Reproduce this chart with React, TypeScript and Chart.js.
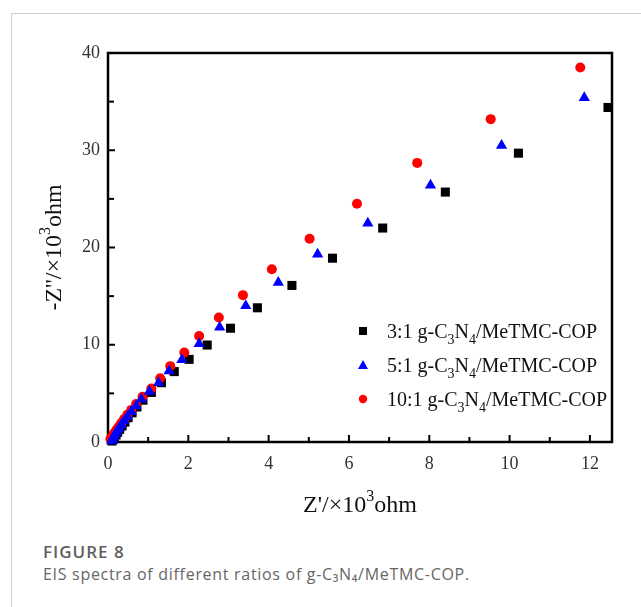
import React, { useEffect, useRef } from "react";
import { Chart, registerables } from "chart.js";

Chart.register(...registerables);

const seriesLabels = [
  "3:1 g-C₃N₄/MeTMC-COP",
  "5:1 g-C₃N₄/MeTMC-COP",
  "10:1 g-C₃N₄/MeTMC-COP",
];

const x31 = [0.1, 0.13, 0.16, 0.2, 0.24, 0.29, 0.35, 0.42, 0.5, 0.6, 0.72, 0.87, 1.08, 1.33, 1.65, 2.02, 2.47, 3.05, 3.72, 4.58, 5.59, 6.84, 8.4, 10.22, 12.45];
const y31 = [0.1, 0.28, 0.48, 0.72, 1.0, 1.3, 1.65, 2.05, 2.5, 3.0, 3.6, 4.3, 5.1, 6.1, 7.24, 8.5, 9.97, 11.7, 13.8, 16.1, 18.9, 22.0, 25.7, 29.7, 34.4];

const x51 = [0.09, 0.11, 0.14, 0.18, 0.22, 0.27, 0.33, 0.4, 0.48, 0.58, 0.7, 0.83, 1.03, 1.26, 1.52, 1.84, 2.27, 2.78, 3.43, 4.24, 5.22, 6.47, 8.03, 9.8, 11.86];
const y51 = [0.1, 0.3, 0.55, 0.8, 1.1, 1.4, 1.75, 2.15, 2.6, 3.1, 3.7, 4.4, 5.2, 6.1, 7.3, 8.45, 10.1, 11.8, 14.0, 16.4, 19.3, 22.5, 26.4, 30.5, 35.4];

const x101 = [0.06, 0.09, 0.13, 0.17, 0.22, 0.27, 0.33, 0.4, 0.48, 0.58, 0.7, 0.86, 1.08, 1.3, 1.55, 1.9, 2.27, 2.76, 3.36, 4.08, 5.02, 6.2, 7.7, 9.53, 11.76];
const y101 = [0.3, 0.5, 0.75, 1.0, 1.3, 1.6, 1.95, 2.35, 2.8, 3.3, 3.9, 4.65, 5.5, 6.55, 7.8, 9.2, 10.9, 12.8, 15.1, 17.76, 20.9, 24.5, 28.7, 33.2, 38.5];

const xTickValues = [0, 2, 4, 6, 8, 10, 12];
const xMinorTickValues = [1, 3, 5, 7, 9, 11];
const yTickValues = [0, 10, 20, 30, 40];
const yMinorTickValues = [5, 15, 25, 35];

const xTitle = "Z'/×10³ohm";
const yTitle = "-Z''/×10³ohm";
const captionHead = "FIGURE 8";
const captionText = "EIS spectra of different ratios of g-C₃N₄/MeTMC-COP.";

const SERIF = "'Liberation Serif', 'Times New Roman', serif";

const subMap: Record<string, string> = { "₀": "0", "₁": "1", "₂": "2", "₃": "3", "₄": "4", "₅": "5", "₆": "6", "₇": "7", "₈": "8", "₉": "9" };
const supMap: Record<string, string> = { "³": "3", "²": "2", "¹": "1" };

type Seg = { t: string; kind: "n" | "sub" | "sup" };
function parseRich(text: string): Seg[] {
  const segs: Seg[] = [];
  for (const ch of text) {
    let kind: Seg["kind"] = "n";
    let t = ch;
    if (subMap[ch]) { kind = "sub"; t = subMap[ch]; }
    else if (supMap[ch]) { kind = "sup"; t = supMap[ch]; }
    const last = segs[segs.length - 1];
    if (last && last.kind === kind) last.t += t;
    else segs.push({ t, kind });
  }
  return segs;
}

function richWidth(ctx: CanvasRenderingContext2D, segs: Seg[], size: number, small: number) {
  let w = 0;
  for (const s of segs) {
    ctx.font = `${s.kind === "n" ? size : small}px ${SERIF}`;
    w += ctx.measureText(s.t).width;
  }
  return w;
}

function drawRich(ctx: CanvasRenderingContext2D, text: string, x: number, y: number, size: number, align: "left" | "center", color: string) {
  const segs = parseRich(text);
  const small = Math.round(size * 0.68);
  const w = richWidth(ctx, segs, size, small);
  let cx = align === "center" ? x - w / 2 : x;
  ctx.save();
  ctx.fillStyle = color;
  ctx.textBaseline = "alphabetic";
  ctx.textAlign = "left";
  for (const s of segs) {
    const fs = s.kind === "n" ? size : small;
    ctx.font = `${fs}px ${SERIF}`;
    const dy = s.kind === "sub" ? size * 0.3 : s.kind === "sup" ? -size * 0.45 : 0;
    ctx.fillText(s.t, cx, y + dy);
    cx += ctx.measureText(s.t).width;
  }
  ctx.restore();
}

const framePlugin = {
  id: "framePlugin",
  beforeDatasetsDraw(chart: any) {
    const { ctx, chartArea } = chart;
    const xs = chart.scales.x;
    const ys = chart.scales.y;
    ctx.save();
    ctx.strokeStyle = "#000";
    ctx.lineWidth = 2;
    const tickX = (vals: number[], len: number) => {
      for (const v of vals) {
        const px = xs.getPixelForValue(v);
        ctx.beginPath();
        ctx.moveTo(px, chartArea.bottom);
        ctx.lineTo(px, chartArea.bottom - len);
        ctx.stroke();
      }
    };
    const tickY = (vals: number[], len: number) => {
      for (const v of vals) {
        const py = ys.getPixelForValue(v);
        ctx.beginPath();
        ctx.moveTo(chartArea.left, py);
        ctx.lineTo(chartArea.left + len, py);
        ctx.stroke();
      }
    };
    tickX(xTickValues, 7);
    tickX(xMinorTickValues, 5);
    tickY(yTickValues, 7);
    tickY(yMinorTickValues, 6);
    ctx.lineWidth = 2.5;
    ctx.strokeRect(chartArea.left, chartArea.top, chartArea.right - chartArea.left, chartArea.bottom - chartArea.top);
    ctx.restore();
  },
  afterDraw(chart: any) {
    const { ctx, chartArea } = chart;
    const midX = (chartArea.left + chartArea.right) / 2;
    const midY = (chartArea.top + chartArea.bottom) / 2;
    drawRich(ctx, xTitle, midX, 512, 24, "center", "#111");
    ctx.save();
    ctx.translate(61, midY);
    ctx.rotate(-Math.PI / 2);
    drawRich(ctx, yTitle, 0, 0, 24, "center", "#111");
    ctx.restore();
    const rows = [331, 365, 399];
    const mx = 363;
    ctx.save();
    ctx.fillStyle = "#000";
    ctx.fillRect(mx - 4, rows[0] - 4, 8, 8);
    ctx.fillStyle = "#0000ff";
    ctx.beginPath();
    ctx.moveTo(mx, rows[1] - 5);
    ctx.lineTo(mx + 5, rows[1] + 4);
    ctx.lineTo(mx - 5, rows[1] + 4);
    ctx.closePath();
    ctx.fill();
    ctx.fillStyle = "#ff0000";
    ctx.beginPath();
    ctx.arc(mx, rows[2], 4.2, 0, Math.PI * 2);
    ctx.fill();
    ctx.restore();
    seriesLabels.forEach((lab, i) => {
      drawRich(ctx, lab, 387, rows[i] + 7, 20, "left", "#111");
    });
  },
};

function toPoints(xs: number[], ys: number[]) {
  return xs.map((x, i) => ({ x, y: ys[i] }));
}

export default function App() {
  const ref = useRef<HTMLCanvasElement | null>(null);
  useEffect(() => {
    if (!ref.current) return;
    const chart = new Chart(ref.current, {
      type: "scatter",
      data: {
        datasets: [
          {
            label: seriesLabels[1],
            data: toPoints(x51, y51),
            pointStyle: "triangle",
            pointRadius: 6.5,
            backgroundColor: "#0000ff",
            borderColor: "#0000ff",
            borderWidth: 0,
            clip: false,
            order: 0,
          },
          {
            label: seriesLabels[2],
            data: toPoints(x101, y101),
            pointStyle: "circle",
            pointRadius: 5,
            backgroundColor: "#ff0000",
            borderColor: "#ff0000",
            borderWidth: 0,
            clip: false,
            order: 1,
          },
          {
            label: seriesLabels[0],
            data: toPoints(x31, y31),
            pointStyle: "rect",
            pointRadius: 6.4,
            backgroundColor: "#000",
            borderColor: "#000",
            borderWidth: 0,
            clip: false,
            order: 2,
          },
        ] as any,
      },
      options: {
        animation: false,
        responsive: false,
        events: [],
        layout: { padding: { top: 53, right: 29, left: 0, bottom: 0 } },
        plugins: { legend: { display: false }, tooltip: { enabled: false }, title: { display: false } },
        scales: {
          x: {
            type: "linear",
            min: 0,
            max: 12.55,
            grid: { display: false, drawTicks: false },
            border: { display: false },
            afterBuildTicks: (s: any) => { s.ticks = xTickValues.map((v) => ({ value: v })); },
            afterFit: (s: any) => { s.height = 88; },
            ticks: { color: "#333", padding: 11, font: { family: SERIF, size: 18 }, maxRotation: 0, autoSkip: false },
          },
          y: {
            type: "linear",
            min: 0,
            max: 40,
            grid: { display: false, drawTicks: false },
            border: { display: false },
            afterBuildTicks: (s: any) => { s.ticks = yTickValues.map((v) => ({ value: v })); },
            afterFit: (s: any) => { s.width = 108; },
            ticks: { color: "#333", padding: 8, font: { family: SERIF, size: 18 }, autoSkip: false },
          },
        },
      } as any,
      plugins: [framePlugin],
    });
    return () => chart.destroy();
  }, []);

  const capFont = "'Open Sans', 'Noto Sans', sans-serif";
  return (
    <div style={{ position: "absolute", left: 0, top: 0, width: 641, height: 607, background: "#fff", overflow: "hidden" }}>
      <div style={{ position: "absolute", left: 11, top: 13, width: 630, height: 1, background: "#cfcfcf" }} />
      <div style={{ position: "absolute", left: 11, top: 13, width: 1, height: 594, background: "#cfcfcf" }} />
      <canvas ref={ref} width={641} height={530} style={{ position: "absolute", left: 0, top: 0, width: 641, height: 530 }} />
      <div style={{ position: "absolute", left: 43, top: 542, fontFamily: capFont, fontSize: 17, fontWeight: 600, letterSpacing: "1px", color: "#5f5f5f", lineHeight: "20px", whiteSpace: "nowrap" }}>
        {captionHead}
      </div>
      <div style={{ position: "absolute", left: 43, top: 564, fontFamily: capFont, fontSize: 16, letterSpacing: "0.7px", color: "#666", lineHeight: "20px", whiteSpace: "nowrap" }}>
        {captionText}
      </div>
    </div>
  );
}
